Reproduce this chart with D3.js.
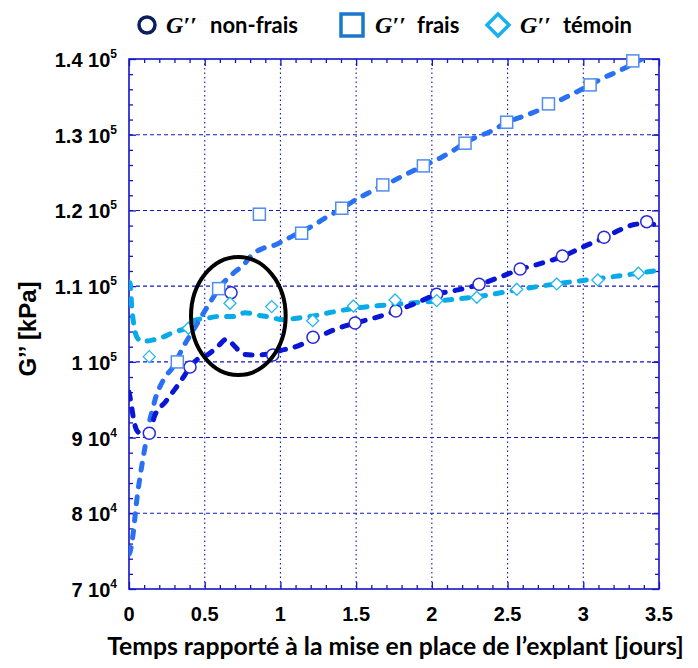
<!DOCTYPE html>
<html>
<head>
<meta charset="utf-8">
<script src="https://cdn.jsdelivr.net/npm/d3@7"></script>
<style>
  body { margin: 0; background: #fff; }
  svg { display: block; }
</style>
</head>
<body>
<svg id="chart" width="698" height="668"></svg>
<script>
// Axis ticks
const xTicks = [0, 0.5, 1, 1.5, 2, 2.5, 3, 3.5];
const xTickLabels = ["0", "0.5", "1", "1.5", "2", "2.5", "3", "3.5"];
const yTicks = [70000, 80000, 90000, 100000, 110000, 120000, 130000, 140000];
const yTickMantissa = ["7", "8", "9", "1", "1.1", "1.2", "1.3", "1.4"];
const yTickExponent = ["4", "4", "4", "5", "5", "5", "5", "5"];

// Series names
const seriesNames = ["non-frais", "frais", "témoin"];

// Measured points (days, kPa)
const nonFraisX = [0.134, 0.403, 0.674, 0.949, 1.215, 1.493, 1.762, 2.032, 2.312, 2.583, 2.862, 3.137, 3.419];
const nonFraisY = [90570, 99330, 109140, 100910, 103250, 105140, 106720, 108930, 110250, 112270, 113990, 116460, 118520];
const fraisX = [0.319, 0.592, 0.861, 1.14, 1.405, 1.676, 1.944, 2.219, 2.494, 2.770, 3.045, 3.327];
const fraisY = [99990, 109670, 119500, 116990, 120290, 123370, 125880, 128880, 131650, 134070, 136580, 139750];
const temoinX = [0.134, 0.392, 0.667, 0.942, 1.213, 1.482, 1.757, 2.032, 2.297, 2.561, 2.825, 3.096, 3.364];
const temoinY = [100690, 104440, 107740, 107300, 105440, 107380, 108180, 108090, 108530, 109590, 110290, 110820, 111700];

// Fitted curves (days, kPa)
const nonFraisCurveX = [0, 0.01, 0.03, 0.05, 0.08, 0.13, 0.17, 0.24, 0.30, 0.35, 0.403, 0.456, 0.515, 0.58, 0.645, 0.70, 0.755, 0.82, 0.91, 1.0, 1.085, 1.174, 1.24, 1.35, 1.49, 1.62, 1.76, 1.9, 2.03, 2.17, 2.31, 2.45, 2.58, 2.72, 2.86, 3.0, 3.14, 3.25, 3.33, 3.42, 3.5];
const nonFraisCurveY = [96000, 95000, 92500, 91000, 90500, 90400, 92900, 94700, 96300, 97700, 99300, 100400, 100900, 101900, 103000, 102000, 101000, 100900, 101000, 101500, 101900, 102600, 103200, 104200, 105100, 105800, 106700, 107800, 108900, 109500, 110200, 111200, 112200, 113000, 113900, 115200, 116400, 117500, 118100, 118300, 117900];
const fraisCurveX = [0, 0.007, 0.028, 0.051, 0.084, 0.106, 0.127, 0.15, 0.172, 0.227, 0.293, 0.359, 0.425, 0.491, 0.546, 0.601, 0.689, 0.755, 0.821, 0.887, 0.964, 1.03, 1.118, 1.207, 1.295, 1.394, 1.504, 1.581, 1.658, 1.735, 1.812, 1.889, 1.966, 2.054, 2.131, 2.252, 2.384, 2.505, 2.627, 2.759, 2.891, 3.0, 3.133, 3.243, 3.386, 3.42];
const fraisCurveY = [74600, 74900, 77400, 81700, 86200, 88800, 91400, 93300, 95000, 97600, 99400, 102000, 104200, 106400, 108200, 109900, 111700, 112800, 114300, 115000, 115440, 116100, 117000, 117900, 119000, 120100, 121500, 122300, 123150, 123800, 124600, 125350, 126100, 126900, 127800, 129300, 130400, 131700, 132600, 133700, 135000, 136100, 137500, 138500, 140000, 140400];
const temoinCurveX = [0, 0.007, 0.018, 0.035, 0.051, 0.084, 0.16, 0.227, 0.304, 0.37, 0.436, 0.513, 0.601, 0.70, 0.766, 0.843, 0.931, 1.019, 1.108, 1.217, 1.35, 1.5, 1.75, 2.03, 2.3, 2.56, 2.82, 3.1, 3.36, 3.5];
const temoinCurveY = [110500, 110400, 107300, 104500, 103300, 102700, 102900, 103300, 104000, 104400, 105500, 105760, 106000, 106000, 106500, 106200, 105900, 105550, 105760, 106060, 106600, 107100, 107600, 108050, 108600, 109500, 110300, 111000, 111700, 112100];

// Highlighted region (centre and radii in data units)
const highlightCentre = [0.722, 106060];
const highlightRadius = [0.3125, 7794];

(function draw() {
  const zip = (xs, ys) => xs.map((v, i) => [v, ys[i]]);

  const svg = d3.select("#chart");
  const W = 698, H = 668;
  const pl = 129, pr = 659, pt = 59, pb = 589;

  const x = d3.scaleLinear().domain([0, 3.5]).range([pl, pr]);
  const y = d3.scaleLinear().domain([70000, 140000]).range([pb, pt]);

  const frameColor = "#1414c8";
  const colNon = "#0a16d6", colNonMark = "#2a2ad8";
  const colFrais = "#2a70f2", colFraisMark = "#4f8cf0";
  const colTem = "#08aae8", colTemMark = "#22b6ee";

  svg.append("rect").attr("width", W).attr("height", H).attr("fill", "#fff");

  svg.append("defs").append("clipPath").attr("id", "plotClip")
    .append("rect").attr("x", pl).attr("y", pt)
    .attr("width", pr - pl).attr("height", pb - pt);

  // Grid
  const grid = svg.append("g");
  grid.selectAll("line.h").data(yTicks.slice(1, -1)).join("line")
    .attr("x1", pl).attr("x2", pr)
    .attr("y1", d => y(d)).attr("y2", d => y(d))
    .attr("stroke", frameColor).attr("stroke-width", 1.1)
    .attr("stroke-dasharray", "4,3");
  grid.selectAll("line.v").data(xTicks.slice(1, -1)).join("line")
    .attr("y1", pt).attr("y2", pb)
    .attr("x1", d => x(d)).attr("x2", d => x(d))
    .attr("stroke", frameColor).attr("stroke-width", 1.1)
    .attr("stroke-dasharray", "1.5,3");

  // Inward ticks on all four sides
  const xMinor = d3.range(0, 3.5001, 0.1).filter(v => Math.abs(v * 2 - Math.round(v * 2)) > 1e-6);
  const yMinor = d3.range(70000, 140001, 2000).filter(v => v % 10000 !== 0);

  function tickGroup(axis, tx, ty) {
    const g = svg.append("g").attr("transform", `translate(${tx},${ty})`).call(axis);
    g.select(".domain").remove();
    g.selectAll("text").remove();
    g.selectAll("line").attr("stroke", frameColor).attr("stroke-width", 1.3);
  }
  tickGroup(d3.axisBottom(x).tickValues(xMinor).tickSize(-4), 0, pb);
  tickGroup(d3.axisBottom(x).tickValues(xTicks).tickSize(-7), 0, pb);
  tickGroup(d3.axisTop(x).tickValues(xMinor).tickSize(-4), 0, pt);
  tickGroup(d3.axisTop(x).tickValues(xTicks).tickSize(-7), 0, pt);
  tickGroup(d3.axisLeft(y).tickValues(yMinor).tickSize(-4), pl, 0);
  tickGroup(d3.axisLeft(y).tickValues(yTicks).tickSize(-7), pl, 0);
  tickGroup(d3.axisRight(y).tickValues(yMinor).tickSize(-4), pr, 0);
  tickGroup(d3.axisRight(y).tickValues(yTicks).tickSize(-7), pr, 0);

  // Frame
  svg.append("rect").attr("x", pl).attr("y", pt)
    .attr("width", pr - pl).attr("height", pb - pt)
    .attr("fill", "none").attr("stroke", frameColor).attr("stroke-width", 1.6);

  // Curves
  const lineGen = d3.line().x(d => x(d[0])).y(d => y(d[1])).curve(d3.curveMonotoneX);
  const curves = svg.append("g").attr("clip-path", "url(#plotClip)");
  [
    [zip(temoinCurveX, temoinCurveY), colTem],
    [zip(fraisCurveX, fraisCurveY), colFrais],
    [zip(nonFraisCurveX, nonFraisCurveY), colNon]
  ].forEach(([pts, c]) => {
    curves.append("path").datum(pts).attr("d", lineGen)
      .attr("fill", "none").attr("stroke", c).attr("stroke-width", 5)
      .attr("stroke-linecap", "round").attr("stroke-dasharray", "7,10");
  });

  // Markers
  const marks = svg.append("g");
  marks.selectAll("circle.nf").data(zip(nonFraisX, nonFraisY)).join("circle")
    .attr("cx", d => x(d[0])).attr("cy", d => y(d[1])).attr("r", 6)
    .attr("fill", "#fff").attr("stroke", colNonMark).attr("stroke-width", 1.5);
  marks.selectAll("rect.fr").data(zip(fraisX, fraisY)).join("rect")
    .attr("x", d => x(d[0]) - 6).attr("y", d => y(d[1]) - 6)
    .attr("width", 12).attr("height", 12)
    .attr("fill", "#fff").attr("stroke", colFraisMark).attr("stroke-width", 1.5);
  marks.selectAll("path.tm").data(zip(temoinX, temoinY)).join("path")
    .attr("d", d => {
      const cx = x(d[0]), cy = y(d[1]), r = 6;
      return `M${cx},${cy - r}L${cx + r},${cy}L${cx},${cy + r}L${cx - r},${cy}Z`;
    })
    .attr("fill", "#fff").attr("stroke", colTemMark).attr("stroke-width", 1.3);

  // Highlight ellipse
  svg.append("ellipse")
    .attr("cx", x(highlightCentre[0])).attr("cy", y(highlightCentre[1]))
    .attr("rx", x(highlightRadius[0]) - x(0))
    .attr("ry", y(70000) - y(70000 + highlightRadius[1]))
    .attr("fill", "none").attr("stroke", "#000").attr("stroke-width", 4);

  // Tick labels
  const labelFont = "'Liberation Sans', Arial, sans-serif";
  svg.append("g").selectAll("text").data(xTicks).join("text")
    .attr("x", d => x(d)).attr("y", 621)
    .attr("text-anchor", "middle")
    .attr("font-family", labelFont).attr("font-weight", "bold").attr("font-size", 20)
    .text((d, i) => xTickLabels[i]);

  const yl = svg.append("g").selectAll("text").data(yTicks).join("text")
    .attr("x", 117).attr("y", d => y(d) + 8)
    .attr("text-anchor", "end")
    .attr("font-family", labelFont).attr("font-weight", "bold").attr("font-size", 20);
  yl.append("tspan").text((d, i) => yTickMantissa[i] + " 10");
  yl.append("tspan").attr("dy", -9).attr("font-size", 12).text((d, i) => yTickExponent[i]);

  // Axis titles
  svg.append("text")
    .attr("transform", "translate(36,329) rotate(-90)")
    .attr("text-anchor", "middle")
    .attr("font-family", labelFont).attr("font-weight", "bold").attr("font-size", 24)
    .text("G’’ [kPa]");

  const xTitle = svg.append("text")
    .attr("x", 395.5).attr("y", 655)
    .attr("text-anchor", "middle")
    .attr("font-family", "Lato, 'Open Sans', sans-serif").attr("font-weight", "bold").attr("font-size", 20)
    .text("Temps rapporté à la mise en place de l’explant [jours]");
  const tw = xTitle.node().getComputedTextLength();
  xTitle.attr("font-size", 20 * 577 / tw);

  // Legend
  const legend = svg.append("g");
  const legendItems = [
    { mark: "circle", color: "#0b1f5e", mx: 147, gx: 166, tx: 210 },
    { mark: "square", color: "#1a78c8", mx: 352, gx: 375, tx: 417 },
    { mark: "diamond", color: "#18b0f0", mx: 498, gx: 520, tx: 563 }
  ];
  const ly = 25;
  legendItems.forEach((it, i) => {
    if (it.mark === "circle") {
      legend.append("circle").attr("cx", it.mx).attr("cy", ly).attr("r", 8)
        .attr("fill", "#fff").attr("stroke", it.color).attr("stroke-width", 3.5);
    } else if (it.mark === "square") {
      legend.append("rect").attr("x", it.mx - 11).attr("y", ly - 11)
        .attr("width", 22).attr("height", 22)
        .attr("fill", "#fff").attr("stroke", it.color).attr("stroke-width", 3.5);
    } else {
      const r = 11;
      legend.append("path")
        .attr("d", `M${it.mx},${ly - r}L${it.mx + r},${ly}L${it.mx},${ly + r}L${it.mx - r},${ly}Z`)
        .attr("fill", "#fff").attr("stroke", it.color).attr("stroke-width", 3.5);
    }
    legend.append("text").attr("x", it.gx).attr("y", ly + 8)
      .attr("font-family", "'Liberation Serif', 'DejaVu Serif', serif")
      .attr("font-style", "italic").attr("font-weight", "bold").attr("font-size", 24)
      .text("G′′");
    legend.append("text").attr("x", it.tx).attr("y", ly + 8)
      .attr("font-family", "Lato, 'Open Sans', sans-serif")
      .attr("font-weight", "bold").attr("font-size", 22)
      .text(seriesNames[i]);
  });
})();
</script>
</body>
</html>
